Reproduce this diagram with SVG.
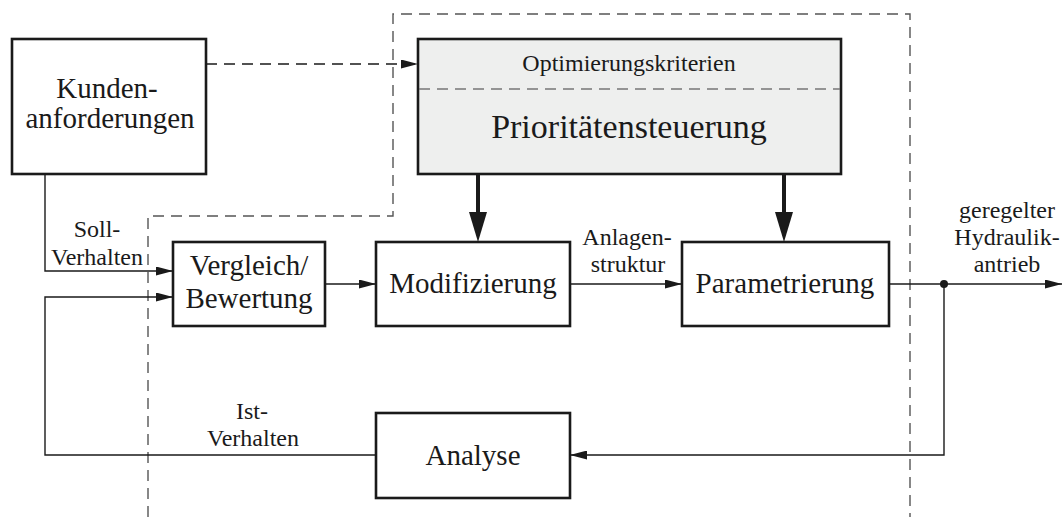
<svg xmlns="http://www.w3.org/2000/svg" width="1062" height="517" viewBox="0 0 1062 517">
<style>
.box{fill:#fff;stroke:#1a1a1a;stroke-width:2.6}
.gray{fill:#eeefee;stroke:#1a1a1a;stroke-width:2.6}
.t{font-family:"Liberation Serif","Times New Roman",serif;fill:#1a1a1a;text-anchor:middle}
.m{font-size:29px}
.s{font-size:24px}
.c{fill:none;stroke:#1a1a1a;stroke-width:1.4}
.thick{fill:none;stroke:#1a1a1a;stroke-width:4}
.dash{fill:none;stroke:#555;stroke-width:1.4;stroke-dasharray:11 7}
</style>
<defs>
<marker id="a" markerUnits="userSpaceOnUse" viewBox="0 0 17 9" markerWidth="17" markerHeight="9" refX="17" refY="4.5" orient="auto"><path d="M0,0 L17,4.5 L0,9 z" fill="#1a1a1a"/></marker>
<marker id="A" markerUnits="userSpaceOnUse" viewBox="0 -9 30 18" markerWidth="30" markerHeight="18" refX="0" refY="0" orient="auto"><path d="M0,-9 L30,0 L0,9 z" fill="#1a1a1a"/></marker>
</defs>
<g id="boundary"><path class="dash" d="M148,517 V216 H393 V14 H910 V517"/></g>
<g id="kunden"><rect class="box" x="12" y="39" width="194" height="135"/><text class="t m" x="107" y="98">Kunden-</text><text class="t m" x="110" y="128">anforderungen</text></g>
<g id="prioritaeten"><rect class="gray" x="418" y="39" width="423" height="135"/><line x1="419" y1="89" x2="840" y2="89" stroke="#777" stroke-width="1.4" stroke-dasharray="11 7"/><text class="t" font-size="24" x="629" y="71">Optimierungskriterien</text><text class="t" font-size="34" x="629" y="138">Prioritätensteuerung</text></g>
<g id="vergleich"><rect class="box" x="173" y="242" width="152" height="84"/><text class="t m" x="249" y="275">Vergleich/</text><text class="t m" x="249" y="308">Bewertung</text></g>
<g id="modifizierung"><rect class="box" x="376" y="242" width="194" height="84"/><text class="t m" x="473" y="293">Modifizierung</text></g>
<g id="parametrierung"><rect class="box" x="682" y="242" width="207" height="84"/><text class="t m" x="785" y="293">Parametrierung</text></g>
<g id="analyse"><rect class="box" x="376" y="413" width="194" height="85"/><text class="t m" x="473" y="465">Analyse</text></g>
<g id="connectors">
<line x1="206" y1="64" x2="418" y2="64" stroke="#1a1a1a" stroke-width="1.4" stroke-dasharray="11 7" marker-end="url(#a)"/>
<line class="thick" x1="478" y1="174" x2="478" y2="212" marker-end="url(#A)"/>
<line class="thick" x1="784" y1="174" x2="784" y2="212" marker-end="url(#A)"/>
<path class="c" d="M45,174 V271 H173" marker-end="url(#a)"/>
<path class="c" d="M376,455 H45 V297 H173" marker-end="url(#a)"/>
<line class="c" x1="325" y1="284" x2="376" y2="284" marker-end="url(#a)"/>
<line class="c" x1="570" y1="284" x2="682" y2="284" marker-end="url(#a)"/>
<line class="c" x1="889" y1="284" x2="1062" y2="284" marker-end="url(#a)"/>
<path class="c" d="M944,284 V455 H570" marker-end="url(#a)"/>
<circle cx="944" cy="284" r="4" fill="#1a1a1a"/>
<text class="t s" x="97" y="237">Soll-</text><text class="t s" x="97" y="265">Verhalten</text>
<text class="t s" x="627" y="245">Anlagen-</text><text class="t s" x="628" y="272">struktur</text>
<text class="t s" x="1007" y="218">geregelter</text><text class="t s" x="1007" y="245">Hydraulik-</text><text class="t s" x="1007" y="272">antrieb</text>
<text class="t s" x="252" y="419">Ist-</text><text class="t s" x="253" y="446">Verhalten</text>
</g>
</svg>
